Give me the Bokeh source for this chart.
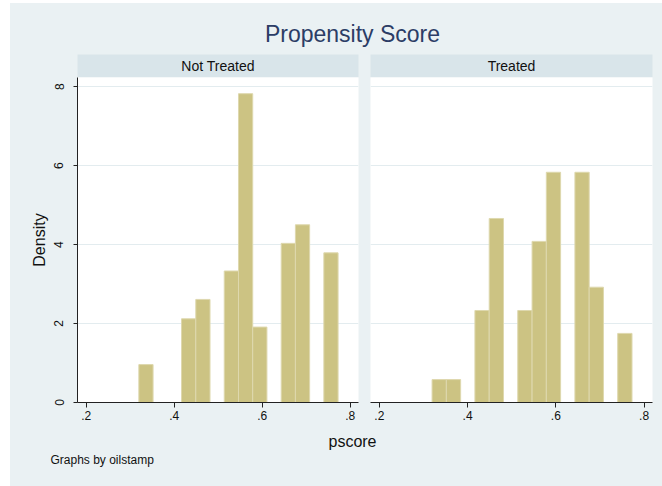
import math
from bokeh.plotting import figure
from bokeh.layouts import column, row
from bokeh.models import Range1d, FixedTicker, ColumnDataSource, Spacer
from bokeh.core.properties import value
from bokeh.embed import file_html
from bokeh.resources import INLINE

# ---------------- data ----------------
title_text = "Propensity Score"
panel_names = ["Not Treated", "Treated"]
x_label = "pscore"
y_label = "Density"
note_text = "Graphs by oilstamp"

bin_left = [0.3195, 0.3519, 0.3842, 0.4166, 0.4490, 0.4813, 0.5137,
            0.5461, 0.5784, 0.6108, 0.6432, 0.6755, 0.7079, 0.7402]
bin_width = 0.03236
density_not_treated = [0.96, 0, 0, 2.12, 2.61, 0, 3.33, 7.82, 1.91, 0, 4.03, 4.50, 0, 3.79]
density_treated = [0.58, 0.58, 0, 2.33, 4.66, 0, 2.33, 4.08, 5.83, 0, 5.83, 2.92, 0, 1.75]

x_ticks = [0.2, 0.4, 0.6, 0.8]
x_tick_labels = [".2", ".4", ".6", ".8"]
y_ticks = [0, 2, 4, 6, 8]
y_tick_labels = ["0", "2", "4", "6", "8"]

# ---------------- style ----------------
BG = "#EAF1F3"
STRIP = "#D9E5EA"
BAR = "#CCC383"
BAR_EDGE = "#DED8AE"
GRID = "#E3ECEF"
AXIS = "#222222"
FONT = "Liberation Sans"

W_LEFT, W_RIGHT = 354, 298
W = W_LEFT + W_RIGHT
H_HEAD, H_STRIP, H_PANEL, H_FOOT = 51, 23, 353, 56


def base_fig(width, height, **kw):
    return figure(width=width, height=height, output_backend="svg",
                  toolbar_location=None, title=None,
                  border_fill_color=BG, outline_line_color=None, **kw)


def make_box(width, height, lb, rb, fill):
    b = base_fig(width, height, x_range=Range1d(0, 1), y_range=Range1d(0, 1),
                 x_axis_location=None, y_axis_location=None,
                 min_border_left=lb, min_border_right=rb,
                 min_border_top=0, min_border_bottom=0,
                 background_fill_color=fill)
    b.grid.visible = False
    return b


def make_strip(label, width, lb, rb):
    s = make_box(width, H_STRIP, lb, rb, STRIP)
    s.text(x=[0.5], y=[0.5], text=[label], text_align="center",
           text_baseline="middle", text_font=value(FONT),
           text_font_size="14px", text_color="#111111")
    return s


def make_panel(density, width, lb, rb, show_y):
    p = base_fig(width, H_PANEL, x_range=Range1d(0.18, 0.819), y_range=Range1d(0, 8.23),
                 y_axis_location="left" if show_y else None,
                 min_border_left=lb, min_border_right=rb,
                 min_border_top=0, min_border_bottom=28,
                 background_fill_color="white")
    lefts = [l for l, d in zip(bin_left, density) if d > 0]
    tops = [d for d in density if d > 0]
    src = ColumnDataSource(dict(left=lefts,
                                right=[l + bin_width for l in lefts],
                                top=tops))
    p.quad(left="left", right="right", bottom=0, top="top", source=src,
           fill_color=BAR, line_color=BAR_EDGE, line_width=1)

    p.xgrid.visible = False
    p.ygrid.ticker = FixedTicker(ticks=y_ticks)
    p.ygrid.grid_line_color = GRID
    p.ygrid.grid_line_width = 1

    xa = p.xaxis[0]
    xa.ticker = FixedTicker(ticks=x_ticks)
    xa.major_label_overrides = {t: s for t, s in zip(x_ticks, x_tick_labels)}
    xa.major_tick_in = 0
    xa.major_tick_out = 5
    xa.minor_tick_out = 0
    xa.axis_line_color = AXIS
    xa.major_tick_line_color = AXIS
    xa.major_label_text_font = FONT
    xa.major_label_text_font_size = "12px"
    xa.major_label_text_color = "#111111"
    xa.major_label_standoff = 3

    if show_y:
        ya = p.yaxis[0]
        ya.ticker = FixedTicker(ticks=y_ticks)
        ya.major_label_overrides = {t: s for t, s in zip(y_ticks, y_tick_labels)}
        ya.major_label_orientation = "vertical"
        ya.major_tick_in = 0
        ya.major_tick_out = 4
        ya.minor_tick_out = 0
        ya.axis_line_color = AXIS
        ya.major_tick_line_color = AXIS
        ya.major_label_text_font = FONT
        ya.major_label_text_font_size = "12px"
        ya.major_label_text_color = "#111111"
        ya.major_label_standoff = 10
        ya.axis_label = y_label
        ya.axis_label_text_font = FONT
        ya.axis_label_text_font_size = "16px"
        ya.axis_label_text_font_style = "normal"
        ya.axis_label_text_color = "#111111"
        ya.axis_label_standoff = 4
    return p


# header with title
head = make_box(W, H_HEAD, 0, 0, BG)
head.x_range = Range1d(0, W)
head.y_range = Range1d(0, H_HEAD)
head.text(x=[342], y=[21], text=[title_text], text_align="center",
          text_baseline="middle", text_font=value(FONT),
          text_font_size="23px", text_color="#2C3D66")

strip_l = make_strip(panel_names[0], W_LEFT, 67, 6)
strip_r = make_strip(panel_names[1], W_RIGHT, 6, 10)
panel_l = make_panel(density_not_treated, W_LEFT, 67, 6, True)
panel_r = make_panel(density_treated, W_RIGHT, 6, 10, False)

foot = make_box(W, H_FOOT, 0, 0, BG)
foot.x_range = Range1d(0, W)
foot.y_range = Range1d(0, H_FOOT)
foot.text(x=[342], y=[45], text=[x_label], text_align="center",
          text_baseline="middle", text_font=value(FONT),
          text_font_size="16px", text_color="#111111")
foot.text(x=[40], y=[27], text=[note_text], text_align="left",
          text_baseline="middle", text_font=value(FONT),
          text_font_size="12px", text_color="#111111")

graph = column(head, row(strip_l, strip_r, spacing=0),
               row(panel_l, panel_r, spacing=0), foot, spacing=0,
               styles={"background-color": BG})
layout = column(Spacer(width=10 + W, height=3),
                row(Spacer(width=10, height=10), graph, spacing=0),
                spacing=0)

open("out.html", "w").write(file_html(layout, INLINE))
